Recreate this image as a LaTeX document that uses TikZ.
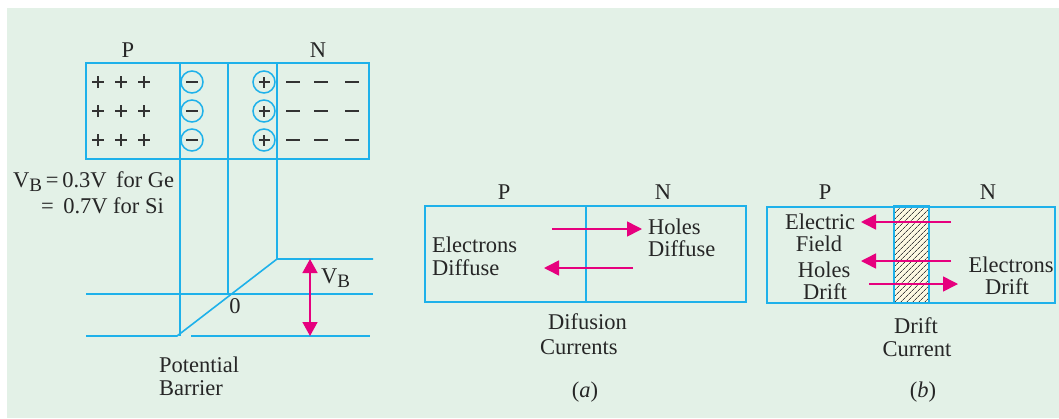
\documentclass[tikz,border=0pt]{standalone}
\usepackage{fontspec}
\setmainfont{Liberation Serif}
\usetikzlibrary{arrows.meta,patterns.meta}
\definecolor{bg}{HTML}{E3F1E7}
\definecolor{cy}{HTML}{1EB1EA}
\definecolor{mg}{HTML}{E6007E}
\definecolor{cream}{HTML}{FDF9E2}
\begin{document}
\begin{tikzpicture}[x=1pt,y=-1pt,
  txt/.style={font=\fontsize{22.5}{22.5}\selectfont, inner sep=0pt, text=black!85},
  cl/.style={draw=cy, line width=1.6pt},
  ma/.style={draw=mg, line width=1.6pt, -{Triangle[length=15pt,width=15pt]}},
  chg/.style={circle, draw=cy, line width=1.5pt, minimum size=22pt, inner sep=0pt},
  sg/.style={draw=black!80, line width=1.3pt},
  pt/.style={inner sep=0pt, minimum size=0pt}]
\useasboundingbox (0,0) rectangle (1059,418);
\fill[white] (0,0) rectangle (1059,418);
\fill[bg] (7,8) rectangle (1059,418);

% ---------- left: junction and potential barrier ----------
\draw[cl] (86,63) rectangle (369,159);
\coordinate (v1t) at (180,63); \coordinate (v1b) at (180,336);
\coordinate (v2t) at (228,63); \coordinate (v2b) at (228,294);
\coordinate (v3t) at (277,63); \coordinate (v3b) at (277,259);
\draw[cl] (v1t) -- (v1b);
\draw[cl] (v2t) -- (v2b);
\draw[cl] (v3t) -- (v3b);
\coordinate (slb) at (177,336);
\draw[cl] (86,336) -- (slb) -- (v3b) -- (373,259);
\draw[cl] (86,294) -- (373,294);
\draw[cl] (191,336) -- (370,336);
\coordinate (vbT) at (310,259); \coordinate (vbB) at (310,336);
\draw[draw=mg, line width=1.6pt, {Triangle[length=14pt,width=15pt]}-{Triangle[length=14pt,width=15pt]}] (vbT) -- (vbB);

\foreach \y [count=\i] in {82,111,140}{
  \foreach \x [count=\j] in {98,121,144}{
    \coordinate (p\i\j) at (\x,\y);
    \draw[sg] ([xshift=-6pt]p\i\j) -- ([xshift=6pt]p\i\j);
    \draw[sg] ([yshift=-6pt]p\i\j) -- ([yshift=6pt]p\i\j);
  }
  \foreach \x [count=\j] in {293,321,352}{
    \coordinate (n\i\j) at (\x,\y);
    \draw[sg, line width=1.6pt] ([xshift=-7pt]n\i\j) -- ([xshift=7pt]n\i\j);
  }
  \node[chg] (cm\i) at (192,\y) {};
  \draw[sg] ([xshift=-6pt]cm\i.center) -- ([xshift=6pt]cm\i.center);
  \node[chg] (cp\i) at (264,\y) {};
  \draw[sg] ([xshift=-5.5pt]cp\i.center) -- ([xshift=5.5pt]cp\i.center);
  \draw[sg] ([yshift=-5.5pt]cp\i.center) -- ([yshift=5.5pt]cp\i.center);
}
\node[txt, anchor=base] (lP) at (128,57) {P};
\node[txt, anchor=base] (lN) at (318,57) {N};
\node[txt, anchor=base west] (vb1) at (13,187) {V\raisebox{-4pt}{\fontsize{19}{19}\selectfont B}\,=\,0.3V\, for Ge};
\node[txt, anchor=base west] (vb2) at (41,213) {=\, 0.7V for Si};
\node[txt, anchor=base] (zero) at (235,313) {0};
\node[txt, anchor=base west] (vbl) at (321,283) {V\raisebox{-4pt}{\fontsize{19}{19}\selectfont B}};
\node[txt, anchor=base west] (pot1) at (159,372) {Potential};
\node[txt, anchor=base west] (pot2) at (159,395) {Barrier};

% ---------- (a) diffusion ----------
\draw[cl] (425,206) rectangle (746,302);
\draw[cl] (586,206) -- (586,302);
\node[txt, anchor=base] (aP) at (504,199) {P};
\node[txt, anchor=base] (aN) at (663,199) {N};
\coordinate (a1s) at (552,229); \coordinate (a1e) at (642,229);
\coordinate (a2s) at (633,268); \coordinate (a2e) at (544,268);
\draw[ma] (a1s) -- (a1e);
\draw[ma] (a2s) -- (a2e);
\node[txt, anchor=base west] (hd1) at (648,234) {Holes};
\node[txt, anchor=base west] (hd2) at (648,256) {Diffuse};
\node[txt, anchor=base west] (ed1) at (432,252) {Electrons};
\node[txt, anchor=base west] (ed2) at (432,275) {Diffuse};
\node[txt, anchor=base west] (dc1) at (548,329) {Difusion};
\node[txt, anchor=base west] (dc2) at (540,354) {Currents};
\node[txt, anchor=base] (capa) at (585,397) {(\textit{a})};

% ---------- (b) drift ----------
\fill[cream] (894,206) rectangle (929,303);
\fill[pattern={Lines[angle=45,distance=4pt,line width=0.8pt]}, pattern color=black!75] (894,206) rectangle (929,303);
\draw[cl] (767,207) rectangle (1055,303);
\draw[cl] (894,206) rectangle (929,303);
\node[txt, anchor=base] (bP) at (825,199) {P};
\node[txt, anchor=base] (bN) at (988,199) {N};
\coordinate (b1s) at (951,222); \coordinate (b1e) at (861,222);
\coordinate (b2s) at (951,261); \coordinate (b2e) at (861,261);
\coordinate (b3s) at (869,284); \coordinate (b3e) at (958,284);
\draw[ma] (b1s) -- (b1e);
\draw[ma] (b2s) -- (b2e);
\draw[ma] (b3s) -- (b3e);
\node[txt, anchor=base] (ef1) at (820,229) {Electric};
\node[txt, anchor=base] (ef2) at (819,251) {Field};
\node[txt, anchor=base] (hdr1) at (824,277) {Holes};
\node[txt, anchor=base] (hdr2) at (825,299) {Drift};
\node[txt, anchor=base] (edr1) at (1011,272) {Electrons};
\node[txt, anchor=base] (edr2) at (1007,294) {Drift};
\node[txt, anchor=base] (dr1) at (916,333) {Drift};
\node[txt, anchor=base] (dr2) at (917,356) {Current};
\node[txt, anchor=base] (capb) at (923,397) {(\textit{b})};
\end{tikzpicture}
\end{document}
